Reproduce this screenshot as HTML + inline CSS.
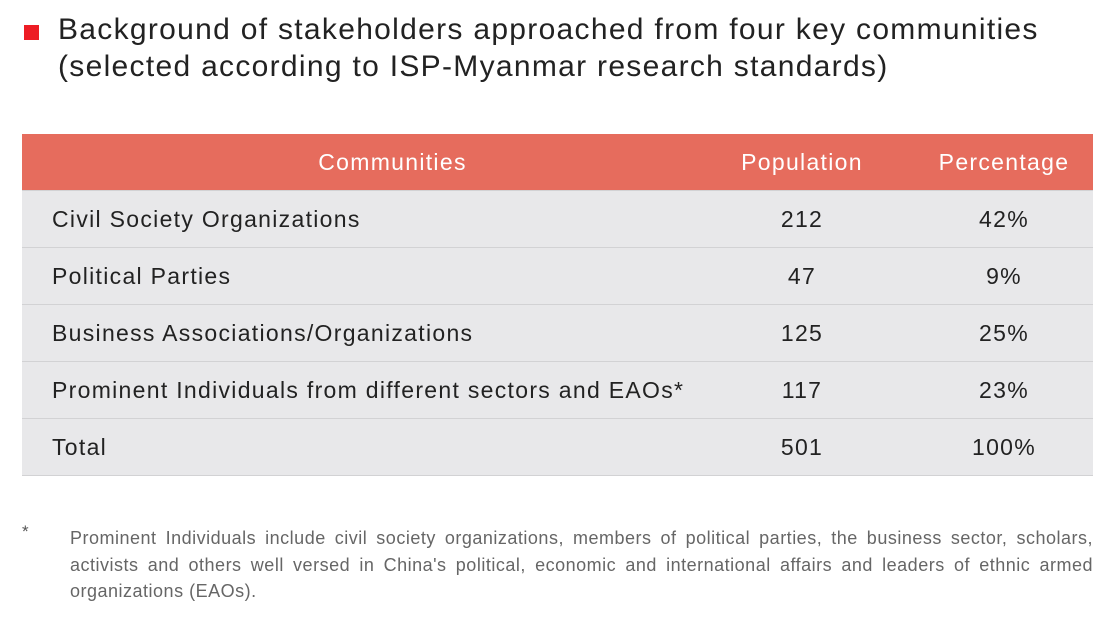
<!DOCTYPE html>
<html><head><meta charset="utf-8"><style>
body{margin:0;width:1110px;height:622px;background:#fff;font-family:"Liberation Sans",sans-serif;position:relative;overflow:hidden;color:#222}
.sq{position:absolute;left:24px;top:25px;width:15px;height:15px;background:#ed1c24}
.title{position:absolute;left:58px;top:11px;font-size:30px;line-height:37px;color:#222;white-space:nowrap;letter-spacing:1.3px}
table{position:absolute;left:22px;top:134px;width:1071px;border-collapse:collapse;font-size:23px;letter-spacing:1.3px;table-layout:fixed}
th{background:#e66c5d;color:#fff;font-weight:normal;height:56px;padding:0}
td{background:#e8e8ea;height:56px;border-top:1px solid #d2d2d4;padding:0;text-align:center}
td.l{text-align:left;padding-left:30px}
.p{padding-left:22px}
tr:last-child td{border-bottom:1px solid #d2d2d4}
.star{position:absolute;left:22px;top:522px;font-size:17px;color:#555}
.note{position:absolute;left:70px;top:525px;width:1023px;font-size:18px;line-height:26.5px;color:#666;letter-spacing:0.5px}
.note div{text-align:justify;text-align-last:justify;white-space:nowrap}
.note div.last{text-align-last:left}
</style></head><body>
<div class="sq"></div>
<div class="title">Background of stakeholders approached from four key communities<br>(selected according to ISP-Myanmar research standards)</div>
<table>
<colgroup><col style="width:689px"><col style="width:182px"><col style="width:200px"></colgroup>
<tr><th style="padding-left:52px">Communities</th><th>Population</th><th class="p">Percentage</th></tr>
<tr><td class="l">Civil Society Organizations</td><td>212</td><td class="p">42%</td></tr>
<tr><td class="l">Political Parties</td><td>47</td><td class="p">9%</td></tr>
<tr><td class="l">Business Associations/Organizations</td><td>125</td><td class="p">25%</td></tr>
<tr><td class="l">Prominent Individuals from different sectors and EAOs*</td><td>117</td><td class="p">23%</td></tr>
<tr><td class="l">Total</td><td>501</td><td class="p">100%</td></tr>
</table>
<div class="star">*</div>
<div class="note"><div>Prominent Individuals include civil society organizations, members of political parties, the business sector, scholars,</div><div>activists and others well versed in China's political, economic and international affairs and leaders of ethnic armed</div><div class="last">organizations (EAOs).</div></div>
</body></html>
